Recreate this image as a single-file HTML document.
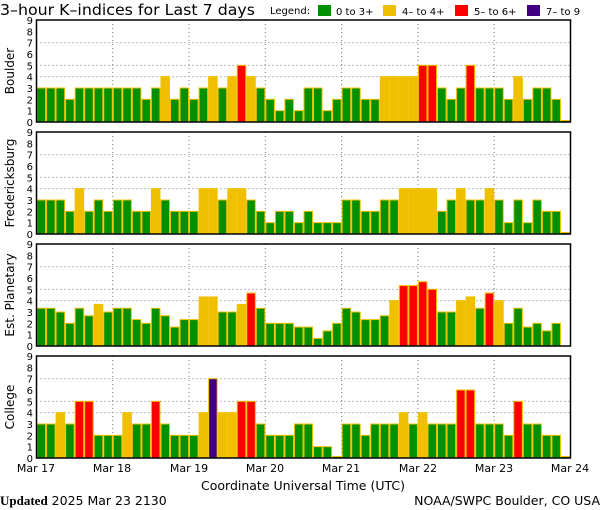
<!DOCTYPE html>
<html><head><meta charset="utf-8"><style>
html,body{margin:0;padding:0;background:#fff;}
svg{display:block;font-family:"DejaVu Sans","Liberation Sans",sans-serif;}
</style></head><body>
<svg id="s" width="600" height="510" viewBox="0 0 600 510" xmlns="http://www.w3.org/2000/svg">
<text x="0" y="15" font-size="15" textLength="255" lengthAdjust="spacingAndGlyphs">3–hour K–indices for Last 7 days</text>
<text x="270" y="14" font-size="10">Legend:</text>
<rect x="318" y="5" width="13" height="11" fill="#009000"/><text x="336" y="15" font-size="10">0 to 3+</text>
<rect x="383" y="5" width="13" height="11" fill="#f0c000"/><text x="402" y="15" font-size="10">4– to 4+</text>
<rect x="455" y="5" width="13" height="11" fill="#ff0000"/><text x="474" y="15" font-size="10">5– to 6+</text>
<rect x="527" y="5" width="13" height="11" fill="#400080"/><text x="546" y="15" font-size="10">7– to 9</text>
<g id="g"></g>
<g font-size="11" text-anchor="middle">
<text x="36" y="472">Mar 17</text><text x="112" y="472">Mar 18</text><text x="189" y="472">Mar 19</text><text x="265" y="472">Mar 20</text><text x="341" y="472">Mar 21</text><text x="418" y="472">Mar 22</text><text x="494" y="472">Mar 23</text><text x="570" y="472">Mar 24</text>
<text x="303" y="490" font-size="12.5">Coordinate Universal Time (UTC)</text>
</g>
<text x="0" y="505" font-size="12.5"><tspan font-family="Liberation Serif,serif" font-weight="bold" font-size="13">Updated</tspan> 2025 Mar 23 2130</text>
<text x="600" y="505" font-size="12.5" text-anchor="end">NOAA/SWPC Boulder, CO USA</text>
</svg>
<script>
var D=[
["Boulder",20,[3,3,3,2,3,3,3,3,3,3,3,2,3,4,2,3,2,3,4,3,4,5,4,3,2,1,2,1,3,3,1,2,3,3,2,2,4,4,4,4,5,5,3,2,3,5,3,3,3,2,4,2,3,3,2,0]],
["Fredericksburg",132,[3,3,3,2,4,2,3,2,3,3,2,2,4,3,2,2,2,4,4,3,4,4,3,2,1,2,2,1,2,1,1,1,3,3,2,2,3,3,4,4,4,4,2,3,4,3,3,4,3,1,3,1,3,2,2,0]],
["Est. Planetary",244,[3.33,3.33,3,2,3.33,2.67,3.67,3,3.33,3.33,2.33,2,3.33,2.67,1.67,2.33,2.33,4.33,4.33,3,3,3.67,4.67,3.33,2,2,2,1.67,1.67,0.67,1.33,2,3.33,3,2.33,2.33,2.67,4,5.33,5.33,5.67,5,3,3,4,4.33,3.33,4.67,4,2,3.33,1.67,2,1.33,2,null]],
["College",356,[3,3,4,3,5,5,2,2,2,4,3,3,5,3,2,2,2,4,7,4,4,5,5,3,2,2,2,3,3,1,1,0,3,3,2,3,3,3,4,3,4,3,3,3,6,6,3,3,3,2,5,3,3,2,2,0]]];
var X0=36.5,X1=570.5,BW=(X1-X0)/56,H=102,U=H/9,h='';
D.forEach(function(p){var t=p[1],b=t+H;
 h+='<text transform="translate(14,'+(t+H/2)+') rotate(-90)" text-anchor="middle" font-size="12">'+p[0]+'</text>';
 for(var k=0;k<=9;k++)h+='<text x="33" y="'+(b-k*U+4)+'" font-size="10" text-anchor="end">'+k+'</text>';
 [4,5,7].forEach(function(k){h+='<line x1="'+X0+'" x2="'+X1+'" y1="'+(b-k*U)+'" y2="'+(b-k*U)+'" stroke="#777" stroke-dasharray="1,3"/>';});
 for(var d=1;d<7;d++){var x=X0+d*8*BW;h+='<line x1="'+x+'" x2="'+x+'" y1="'+t+'" y2="'+b+'" stroke="#777" stroke-dasharray="1,3"/>';}
 p[2].forEach(function(v,i){if(v===null)return;var c=v>=6.67?'#400080':v>=4.67?'#ff0000':v>=3.67?'#f0c000':'#009000';
  var hh=Math.max(v*U,1.5),x=X0+i*BW;
  h+='<rect x="'+(x+0.5)+'" y="'+(b-hh)+'" width="'+(BW-1)+'" height="'+hh+'" fill="'+c+'" stroke="#f0c000" stroke-width="1"/>';});
 h+='<rect x="'+X0+'" y="'+t+'" width="'+(X1-X0)+'" height="'+H+'" fill="none" stroke="#000" stroke-width="1.5"/>';
});
document.getElementById('g').innerHTML=h;
</script>
</body></html>
